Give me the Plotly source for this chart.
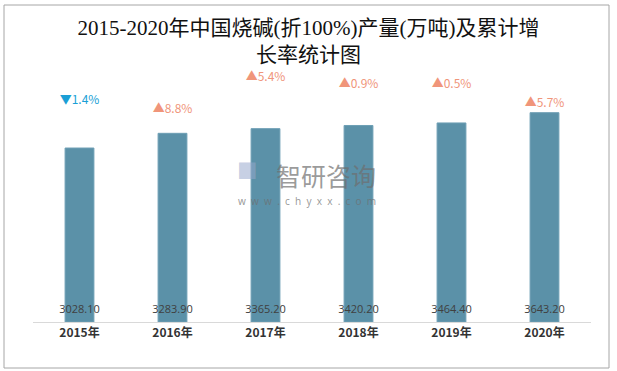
import plotly.graph_objects as go

years = ["2015年", "2016年", "2017年", "2018年", "2019年", "2020年"]
production = [3028.10, 3283.90, 3365.20, 3420.20, 3464.40, 3643.20]
growth = [-1.4, 8.8, 5.4, 0.9, 0.5, 5.7]

# style: vertical position of growth labels (in y-axis units)
growth_label_y = [3846, 3690, 4246, 4125, 4125, 3794]
value_label_y = 210

up_color = "#F0957A"
down_color = "#1A9FD6"
bar_color = "#5B91A8"

growth_text = [("▲" if g >= 0 else "▼") + f"{abs(g):.1f}%" for g in growth]
growth_colors = [up_color if g >= 0 else down_color for g in growth]

fig = go.Figure()
fig.add_trace(go.Bar(
    x=years, y=production, width=0.31,
    marker=dict(color=bar_color, line=dict(color="#6E9FB5", width=1)),
    hoverinfo="x+y", showlegend=False,
))
fig.add_trace(go.Scatter(
    x=years, y=[value_label_y] * len(years), mode="text",
    text=[f"{v:.2f}" for v in production],
    textfont=dict(family="Open Sans, Noto Sans, sans-serif", size=11, color="#404040"),
    hoverinfo="skip", showlegend=False,
))
fig.add_trace(go.Scatter(
    x=years, y=growth_label_y, mode="text", text=growth_text,
    textfont=dict(family="Noto Sans CJK SC, sans-serif", size=12, color=growth_colors),
    hoverinfo="skip", showlegend=False,
))

# watermark
wm = "rgba(110,110,110,0.7)"
fig.add_annotation(xref="paper", yref="paper", x=0.525, y=0.585, text="智研咨询",
                   showarrow=False, font=dict(family="Noto Sans CJK SC", size=25, color=wm))
fig.add_annotation(xref="paper", yref="paper", x=0.491, y=0.48, text="w  w  w  .  c  h  y  x  x  .  c  o  m",
                   showarrow=False, font=dict(family="Noto Sans", size=10, color=wm))
fig.add_annotation(xref="paper", yref="paper", x=0.385, y=0.61, text="■",
                   showarrow=False, font=dict(family="Noto Sans", size=34, color="rgba(150,168,205,0.55)"))

fig.update_layout(
    width=617, height=371,
    margin=dict(l=33, r=26, t=70, b=49),
    paper_bgcolor="white", plot_bgcolor="white",
    title=dict(
        text="2015-2020年中国烧碱(折100%)产量(万吨)及累计增<br>长率统计图",
        x=0.5, xanchor="center", y=0.906, yanchor="middle",
        font=dict(family="Liberation Serif, Noto Sans CJK SC, serif", size=21, color="#111111"),
    ),
    xaxis=dict(
        showline=True, linecolor="#D9D9D9", linewidth=1, ticks="",
        tickfont=dict(family="Noto Sans CJK SC", size=12, color="#333333", weight="bold"),
        showgrid=False,
    ),
    yaxis=dict(visible=False, range=[0, 4386], showgrid=False, zeroline=False),
    shapes=[dict(type="rect", xref="paper", yref="paper",
                 x0=-29/558, x1=(609-33)/558, y0=(322-368)/252, y1=(322-5)/252,
                 line=dict(color="#A6A6A6", width=1), fillcolor="rgba(0,0,0,0)", layer="below")],
)

fig.write_html("out.html", config={"displayModeBar": False},
               post_script="document.body.style.margin='0';document.body.style.padding='0';")
